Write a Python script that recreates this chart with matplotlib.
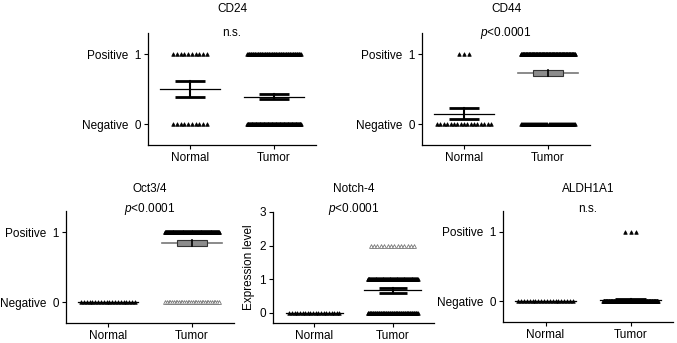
import numpy as np
import matplotlib.pyplot as plt
from matplotlib.patches import Rectangle

plt.rcParams["font.family"] = ["Liberation Sans", "DejaVu Sans"]
plt.rcParams["mathtext.fontset"] = "custom"
plt.rcParams["mathtext.it"] = "Liberation Sans:italic"
plt.rcParams["mathtext.rm"] = "Liberation Sans"

# Data
genes = ["CD24", "CD44", "Oct3/4", "Notch-4", "ALDH1A1"]
p_labels = ["n.s.", r"$p$<0.0001", r"$p$<0.0001", r"$p$<0.0001", "n.s."]
groups = ["Normal", "Tumor"]

# number of samples at each score level: {level: count}
normal_counts = [{1: 10, 0: 10}, {1: 3, 0: 17}, {0: 20}, {0: 20}, {0: 20}]
tumor_counts = [{1: 78, 0: 122}, {1: 146, 0: 54}, {1: 168, 0: 32},
                {2: 14, 1: 108, 0: 78}, {1: 3, 0: 197}]

normal_mean = [0.50, 0.15, 0.0, 0.0, 0.0]
normal_sem = [0.115, 0.08, 0.0, 0.0, 0.0]
tumor_mean = [0.39, 0.73, 0.84, 0.67, 0.015]
tumor_sem = [0.035, 0.045, 0.04, 0.065, 0.01]

# rows drawn as hollow grey triangles (gene index, group index, level)
grey_rows = [(2, 1, 0), (3, 1, 2)]
# tumor SEM drawn as a filled grey box
grey_box = [1, 2]

W, H = 677, 343
fig = plt.figure(figsize=(W / 100, H / 100), dpi=100)

# pixel boxes (left, top, right, bottom)
boxes = [(148, 33, 316, 145), (422, 33, 590, 145),
         (66, 211, 234, 323), (273, 212, 434, 323), (503, 211, 673, 322)]


def add_px_axes(l, t, r, b):
    return fig.add_axes([l / W, 1 - b / H, (r - l) / W, (b - t) / H])


for i, gene in enumerate(genes):
    l, t, r, b = boxes[i]
    ax = add_px_axes(l, t, r, b)

    for g, counts in enumerate([normal_counts[i], tumor_counts[i]]):
        for level, n in counts.items():
            half = min(n * 0.02, 0.32)
            xs = np.linspace(g - half, g + half, n) if n > 1 else np.array([g])
            ys = np.full(n, level)
            if (i, g, level) in grey_rows:
                ax.plot(xs, ys, ls="none", marker="^", ms=2.8, mfc="white",
                        mec="#777777", mew=0.6, zorder=2)
            else:
                ax.plot(xs, ys, ls="none", marker="^", ms=2.6, mfc="black",
                        mec="black", mew=0.5, zorder=2)

    for g, (m, s) in enumerate([(normal_mean[i], normal_sem[i]),
                                (tumor_mean[i], tumor_sem[i])]):
        if g == 1 and i in grey_box:
            ax.plot([g - 0.36, g + 0.36], [m, m], color="#777777", lw=1.2, zorder=3)
            ax.add_patch(Rectangle((g - 0.18, m - s), 0.36, 2 * s, fc="#8c8c8c",
                                   ec="#333333", lw=0.8, zorder=4))
            ax.plot([g, g], [m - s, m + s], color="black", lw=1.2, zorder=5)
        else:
            ax.plot([g - 0.36, g + 0.36], [m, m], color="black", lw=0.9, zorder=3)
            if s > 0:
                ax.plot([g, g], [m - s, m + s], color="black", lw=1.5, zorder=4)
                for y in (m - s, m + s):
                    ax.plot([g - 0.18, g + 0.18], [y, y], color="black",
                            lw=2, solid_capstyle="butt", zorder=4)

    ax.set_xlim(-0.5, 1.5)
    ax.set_xticks([0, 1])
    ax.set_xticklabels(groups, fontsize=8.5)
    if gene == "Notch-4":
        ax.set_xlim(-0.53, 1.53)
        ax.set_ylim(-0.3, 3.0)
        ax.set_yticks([0, 1, 2, 3])
        ax.set_ylabel("Expression level", fontsize=8.5, labelpad=3)
    else:
        ax.set_ylim(-0.3, 1.3)
        ax.set_yticks([0, 1])
        ax.set_yticklabels(["Negative  0", "Positive  1"])
    ax.tick_params(labelsize=8.5, length=3, width=0.8, pad=2)
    for side in ["top", "right"]:
        ax.spines[side].set_visible(False)
    for side in ["left", "bottom"]:
        ax.spines[side].set_linewidth(0.9)

    cx = (l + r) / 2
    title_y = 9 if t < 100 else 189
    p_y = 33 if t < 100 else 209
    fig.text(cx / W, 1 - title_y / H, gene, ha="center", va="center", fontsize=8.5)
    fig.text(cx / W, 1 - p_y / H, p_labels[i], ha="center", va="center", fontsize=8.5)

fig.savefig("out.png", dpi=100)
